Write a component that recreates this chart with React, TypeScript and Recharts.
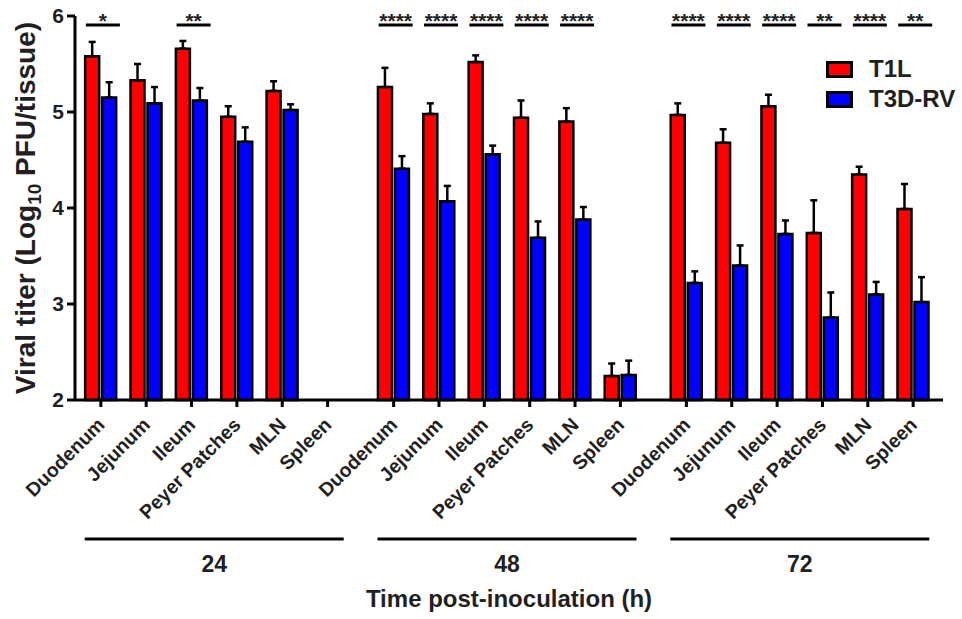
import React from 'react';
import { BarChart, Bar, XAxis, YAxis, ErrorBar, ReferenceLine } from 'recharts';

const times = ['24', '48', '72'];
const tissues = ['Duodenum', 'Jejunum', 'Ileum', 'Peyer Patches', 'MLN', 'Spleen'];

// order: 24h (6 tissues), 48h, 72h
const t1l = [5.58, 5.33, 5.66, 4.95, 5.22, null, 5.26, 4.98, 5.52, 4.94, 4.9, 2.25, 4.97, 4.68, 5.06, 3.74, 4.35, 3.99];
const t1lSem = [0.15, 0.17, 0.08, 0.11, 0.1, null, 0.2, 0.11, 0.07, 0.18, 0.14, 0.13, 0.12, 0.14, 0.12, 0.34, 0.08, 0.26];
const t3d = [5.15, 5.09, 5.12, 4.69, 5.02, null, 4.41, 4.07, 4.56, 3.69, 3.88, 2.26, 3.22, 3.4, 3.73, 2.86, 3.1, 3.02];
const t3dSem = [0.16, 0.17, 0.13, 0.15, 0.06, null, 0.13, 0.16, 0.09, 0.17, 0.13, 0.15, 0.12, 0.21, 0.14, 0.26, 0.13, 0.26];
const stars = ['*', '', '**', '', '', '', '****', '****', '****', '****', '****', '', '****', '****', '****', '**', '****', '**'];

const yTicks = [2, 3, 4, 5, 6];
const seriesNames = ['T1L', 'T3D-RV'];
const seriesColors = ['#ff0000', '#0000ff'];

const GROUP_STEP = 6.456; // extra space between time groups
const xPos = (i: number) => Math.floor(i / 6) * GROUP_STEP + (i % 6);

const data = t1l.map((v, i) => ({
  x: xPos(i),
  t1l: v,
  t1lErr: t1lSem[i] == null ? null : [0, t1lSem[i]],
  t3d: t3d[i],
  t3dErr: t3dSem[i] == null ? null : [0, t3dSem[i]],
}));

const catTicks = data.map((d) => d.x);
const groupTicks = times.map((_, g) => g * GROUP_STEP + 2.5);
const X_DOMAIN = [-0.57, 18.57];

const FONT = '"Liberation Sans", Arial, Helvetica, sans-serif';
const TXT = '#231f20';

const CatTick = (props: any) => {
  const { x, y, index } = props;
  return (
    <text
      transform={`translate(${x + 5},${y + 17}) rotate(-45)`}
      textAnchor="end"
      fontSize={19.5}
      fontWeight="bold"
      fill={TXT}
    >
      {tissues[index % 6]}
    </text>
  );
};

const GroupTick = (props: any) => {
  const { x, y, index } = props;
  return (
    <g>
      <line x1={x - 129.5} x2={x + 129.5} y1={y + 14} y2={y + 14} stroke="#000" strokeWidth={3} />
      <text x={x} y={y + 47} textAnchor="middle" fontSize={23} fontWeight="bold" fill={TXT}>
        {times[index]}
      </text>
    </g>
  );
};

const YTitle = (props: any) => {
  const vb = props.viewBox;
  return (
    <text
      transform={`translate(35,${vb.y + vb.height / 2}) rotate(-90)`}
      textAnchor="middle"
      fontSize={28}
      fontWeight="bold"
      fill={TXT}
    >
      <tspan>Viral titer (Log</tspan>
      <tspan fontSize={19} dy={6}>10</tspan>
      <tspan dy={-6}> PFU/tissue)</tspan>
    </text>
  );
};

const XTitle = (props: any) => {
  const vb = props.viewBox;
  return (
    <text x={vb.x + vb.width / 2} y={vb.y + 82} textAnchor="middle" fontSize={24} fontWeight="bold" fill={TXT}>
      Time post-inoculation (h)
    </text>
  );
};

const LegendBox = () => (
  <div
    style={{
      position: 'absolute',
      left: 826,
      top: 54,
      fontFamily: FONT,
      fontWeight: 'bold',
      fontSize: 24,
      color: TXT,
    }}
  >
    {seriesNames.map((name, i) => (
      <div key={name} style={{ display: 'flex', alignItems: 'center', height: 30 }}>
        <span
          style={{
            display: 'inline-block',
            width: 27,
            height: 17,
            boxSizing: 'border-box',
            border: '3px solid #000',
            background: seriesColors[i],
            marginRight: 16,
          }}
        />
        <span>{name}</span>
      </div>
    ))}
  </div>
);

export default function App() {
  return (
    <div style={{ position: 'absolute', left: 0, top: 0, width: 962, height: 619, fontFamily: FONT, background: '#fff' }}>
      <BarChart width={962} height={619} data={data} margin={{ top: 16, right: 19, bottom: 0, left: 0 }} barGap={3}>
        <XAxis
          xAxisId="cat"
          dataKey="x"
          type="number"
          domain={X_DOMAIN}
          ticks={catTicks}
          interval={0}
          height={125}
          tick={<CatTick />}
          tickSize={7}
          tickMargin={2}
          axisLine={{ stroke: '#000', strokeWidth: 3 }}
          tickLine={{ stroke: '#000', strokeWidth: 3 }}
        />
        <XAxis
          xAxisId="grp"
          dataKey="x"
          type="number"
          domain={X_DOMAIN}
          ticks={groupTicks}
          interval={0}
          height={94}
          tick={<GroupTick />}
          tickSize={0}
          tickMargin={0}
          axisLine={false}
          tickLine={false}
          label={<XTitle />}
        />
        <YAxis
          domain={[2, 6]}
          ticks={yTicks}
          width={75}
          tickSize={8}
          tickMargin={3}
          tick={{ fill: TXT, fontSize: 21, fontWeight: 'bold' }}
          axisLine={{ stroke: '#000', strokeWidth: 3 }}
          tickLine={{ stroke: '#000', strokeWidth: 3 }}
          label={<YTitle />}
        />
        <Bar xAxisId="cat" dataKey="t1l" name="T1L" fill={seriesColors[0]} stroke="#000" strokeWidth={2.5} barSize={14} isAnimationActive={false}>
          <ErrorBar dataKey="t1lErr" direction="y" width={3.5} stroke="#000" strokeWidth={2.5} />
        </Bar>
        <Bar xAxisId="cat" dataKey="t3d" name="T3D-RV" fill={seriesColors[1]} stroke="#000" strokeWidth={2.5} barSize={14} isAnimationActive={false}>
          <ErrorBar dataKey="t3dErr" direction="y" width={3.5} stroke="#000" strokeWidth={2.5} />
        </Bar>
        {stars.map((s, i) =>
          s ? (
            <ReferenceLine
              key={i}
              xAxisId="cat"
              segment={[
                { x: xPos(i) - 0.33, y: 5.906 },
                { x: xPos(i) + 0.42, y: 5.906 },
              ]}
              stroke="#000"
              strokeWidth={3}
              label={{ value: s, position: 'top', offset: -3, fontSize: 21, fontWeight: 'bold', fill: TXT }}
            />
          ) : null
        )}
      </BarChart>
      <LegendBox />
    </div>
  );
}
